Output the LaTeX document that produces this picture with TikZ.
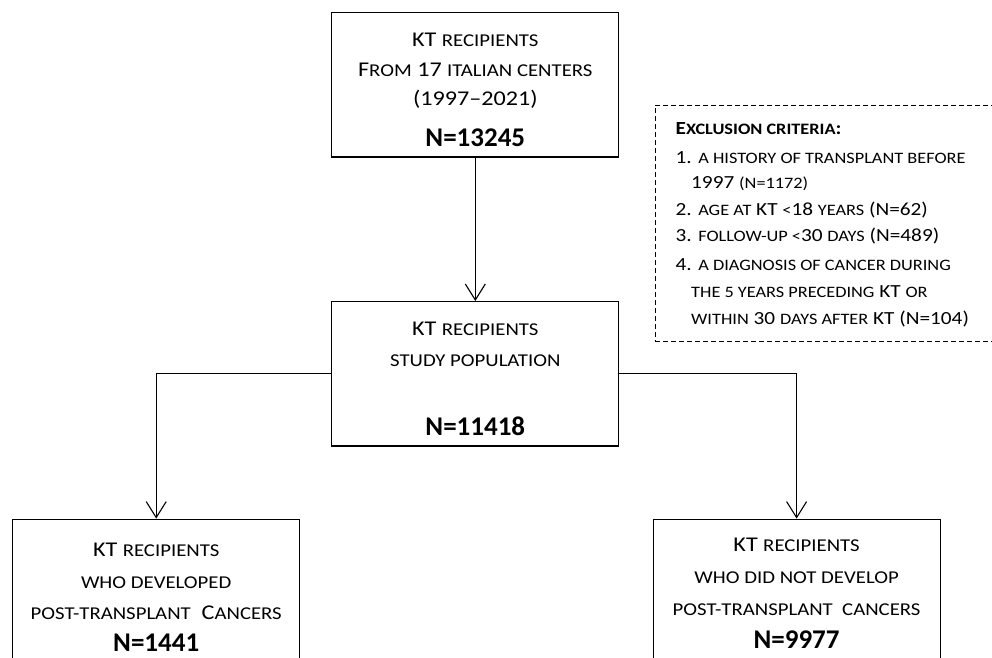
\documentclass[tikz,border=0pt]{standalone}
\usepackage{fontspec}
\setmainfont{Carlito}[FakeStretch=1.15]
\newfontfamily\scf{Carlito}[Scale=0.86,FakeStretch=1.15]
\newfontfamily\numf{Carlito}
\newcommand\sct[1]{{\scf #1}}
\usetikzlibrary{arrows.meta}
\tikzset{
  box/.style={draw, line width=1.2pt, inner sep=0pt, minimum width=287pt},
  txt/.style={anchor=base, inner sep=0pt, font=\fontsize{21}{25}\selectfont},
  num/.style={anchor=base, inner sep=0pt, font=\numf\bfseries\fontsize{27}{30}\selectfont},
  etxt/.style={anchor=base west, inner sep=0pt, font=\fontsize{18.5}{22}\selectfont},
  conn/.style={line width=1.1pt, -{Straight Barb[length=16pt,width=20pt,line width=1.1pt]}},
}
\begin{document}
\begin{tikzpicture}[x=1pt,y=-1pt]
\clip (0,0) rectangle (992,657);
\fill[white] (0,0) rectangle (992,657);
% boxes
\node[box, minimum height=144.4pt] (top) at (475.3,84.8) {};
\node[box, minimum height=144.4pt] (mid) at (475.3,373.8) {};
\node[box, minimum height=180pt, anchor=north] (left) at (156.2,518.6) {};
\node[box, minimum height=180pt, anchor=north] (right) at (796.6,518.6) {};
\node[draw, dash pattern=on 5pt off 3pt, line width=0.9pt, inner sep=0pt,
      minimum width=360pt, minimum height=236.7pt, anchor=north west] (excl) at (654.6,104.7) {};
% top text
\node[txt] (t1) at (475.3,46.7) {KT \sct{RECIPIENTS}};
\node[txt] (t2) at (475.3,76) {F\sct{ROM} 17 \sct{ITALIAN CENTERS}};
\node[txt] (t3) at (475.3,105) {(1997–2021)};
\node[num] (t4) at (475.3,146.7) {N=13245};
% mid text
\node[txt] (m1) at (475.3,335) {KT \sct{RECIPIENTS}};
\node[txt] (m2) at (475.3,366.7) {\sct{STUDY POPULATION}};
\node[num] (m3) at (475.3,435) {N=11418};
% left text
\node[txt] (l1) at (156.2,556) {KT \sct{RECIPIENTS}};
\node[txt] (l2) at (156.2,588.3) {\sct{WHO DEVELOPED}};
\node[txt] (l3) at (156.2,619.3) {\sct{POST-TRANSPLANT}\ \ C\sct{ANCERS}};
\node[num] (l4) at (156.2,651.5) {N=1441};
% right text
\node[txt] (r1) at (796.6,551) {KT \sct{RECIPIENTS}};
\node[txt] (r2) at (796.6,583.3) {\sct{WHO DID NOT DEVELOP}};
\node[txt] (r3) at (796.6,615.7) {\sct{POST-TRANSPLANT\ \ CANCERS}};
\node[num] (r4) at (796.6,648.3) {N=9977};
% exclusion text
\node[etxt] (e0) at (675.5,134.5) {\bfseries E\sct{XCLUSION CRITERIA}:};
\node[etxt] (e1) at (675.5,163.5) {1. \sct{A HISTORY OF TRANSPLANT BEFORE}};
\node[etxt] (e2) at (691,188.5) {1997 \sct{(N=1172)}};
\node[etxt] (e3) at (675.5,215) {2. \sct{AGE AT} KT \sct{<}18 \sct{YEARS} (N=62)};
\node[etxt] (e4) at (675.5,241.5) {3. \sct{FOLLOW-UP <}30 \sct{DAYS} (N=489)};
\node[etxt] (e5) at (675.5,270.5) {4. \sct{A DIAGNOSIS OF CANCER DURING}};
\node[etxt] (e6) at (691,297.5) {\sct{THE 5 YEARS PRECEDING} KT \sct{OR}};
\node[etxt] (e7) at (691,324.5) {\sct{WITHIN} 30 \sct{DAYS AFTER} KT (N=104)};
% connectors
\draw[conn] (top.south) -- (mid.north);
\draw[conn] (mid.west) -| (left.north);
\draw[conn] (mid.east) -| (right.north);
\end{tikzpicture}
\end{document}
